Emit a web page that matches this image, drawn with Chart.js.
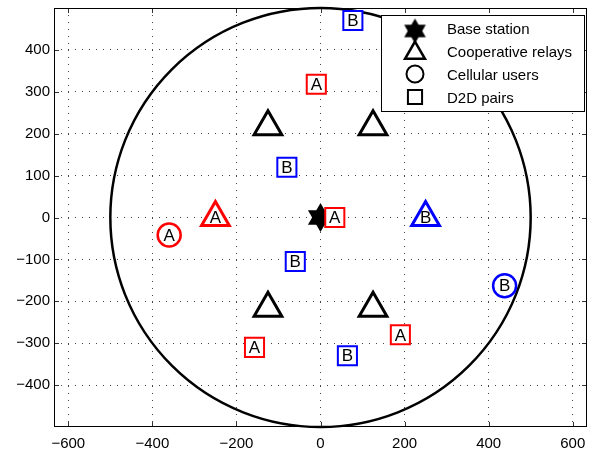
<!DOCTYPE html>
<html>
<head>
<meta charset="utf-8">
<script src="https://cdn.jsdelivr.net/npm/chart.js@4.4.0/dist/chart.umd.min.js"></script>
<style>
  html, body { margin: 0; padding: 0; background: #fff; }
  #wrap { width: 594px; height: 453px; }
</style>
</head>
<body>
<div id="wrap"><canvas id="cellChart"></canvas></div>
<script>
'use strict';

// cell layout (metres)
var cellRadius = 500;
var baseStation = [{x: 0, y: 0}];
var relaysIdle = [{x: -125, y: 216.5}, {x: 125, y: 216.5}, {x: -125, y: -216.5}, {x: 125, y: -216.5}];
var relayA = [{x: -250, y: 0}];
var relayB = [{x: 250, y: 0}];
var cellUserA = [{x: -360, y: -42}];
var cellUserB = [{x: 438, y: -163}];
var d2dA = [{x: -10, y: 318}, {x: 34, y: 0}, {x: -157, y: -310}, {x: 190, y: -280}];
var d2dB = [{x: 77, y: 470}, {x: -80, y: 120}, {x: -60, y: -105}, {x: 64, y: -330}];

// axes
var xRange = [-634, 634];
var yRange = [-500, 500];
var xTicks = [-600, -400, -200, 0, 200, 400, 600];
var yTicks = [-400, -300, -200, -100, 0, 100, 200, 300, 400];
var legendNames = ['Base station', 'Cooperative relays', 'Cellular users', 'D2D pairs'];

var RED = '#ff0000';
var BLUE = '#0000ff';
var FONT = "'Liberation Sans', Arial, sans-serif";

// filled six point star, Chart.js has no such point style
function makeHexagram(R) {
    var size = Math.ceil(R * 2) + 2;
    var c = document.createElement('canvas');
    c.width = size;
    c.height = size;
    var g = c.getContext('2d');
    g.fillStyle = '#000';
    for (var k = 0; k < 2; k++) {
        g.beginPath();
        for (var i = 0; i < 3; i++) {
            var a = (k * 60 + i * 120 - 90) * Math.PI / 180;
            var px = size / 2 + R * Math.cos(a);
            var py = size / 2 + R * Math.sin(a);
            if (i === 0) g.moveTo(px, py); else g.lineTo(px, py);
        }
        g.closePath();
        g.fill();
    }
    return c;
}
var starBig = makeHexagram(14.5);
var starSmall = makeHexagram(12.5);

function markerSet(data, style, radius, color, width, fill, tag, order) {
    return {
        data: data,
        showLine: false,
        pointStyle: style,
        pointRadius: radius,
        pointHoverRadius: radius,
        pointBorderColor: color,
        pointBackgroundColor: fill,
        pointBorderWidth: width,
        pointHoverBorderWidth: width,
        tag: tag,
        order: order
    };
}

function minus(v) {
    return String(v).replace('-', '\u2212');
}

// circle, frame, inward ticks, A/B tags and the legend box
var cellPlugin = {
    id: 'cellPlugin',
    beforeDatasetsDraw: function(chart) {
        var ctx = chart.ctx;
        var xs = chart.scales.x, ys = chart.scales.y;
        var cx = xs.getPixelForValue(0), cy = ys.getPixelForValue(0);
        var rx = xs.getPixelForValue(cellRadius) - cx;
        var ry = cy - ys.getPixelForValue(cellRadius);
        ctx.save();
        ctx.strokeStyle = '#000';
        ctx.lineWidth = 2.5;
        ctx.beginPath();
        ctx.ellipse(cx, cy, rx, ry, 0, 0, Math.PI * 2);
        ctx.stroke();
        ctx.restore();
    },
    afterDatasetsDraw: function(chart) {
        var ctx = chart.ctx;
        var area = chart.chartArea;
        var xs = chart.scales.x, ys = chart.scales.y;

        ctx.save();
        ctx.font = '17px ' + FONT;
        ctx.fillStyle = '#000';
        ctx.textAlign = 'center';
        ctx.textBaseline = 'middle';
        chart.data.datasets.forEach(function(ds, i) {
            if (!ds.tag) return;
            chart.getDatasetMeta(i).data.forEach(function(pt) {
                ctx.fillText(ds.tag, pt.x, pt.y + 1);
            });
        });

        // inward tick marks on all four sides
        ctx.strokeStyle = '#333';
        ctx.lineWidth = 1;
        ctx.beginPath();
        xTicks.forEach(function(v) {
            var px = Math.round(xs.getPixelForValue(v)) + 0.5;
            ctx.moveTo(px, area.bottom); ctx.lineTo(px, area.bottom - 5);
            ctx.moveTo(px, area.top); ctx.lineTo(px, area.top + 5);
        });
        yTicks.forEach(function(v) {
            var py = Math.round(ys.getPixelForValue(v)) + 0.5;
            ctx.moveTo(area.left, py); ctx.lineTo(area.left + 5, py);
            ctx.moveTo(area.right, py); ctx.lineTo(area.right - 5, py);
        });
        ctx.stroke();

        ctx.strokeStyle = '#000';
        ctx.strokeRect(area.left + 0.5, area.top + 0.5, area.right - area.left - 1, area.bottom - area.top - 1);

        // legend
        var lx = 381.5, ly = 15.5, lw = 203, lh = 96;
        ctx.fillStyle = '#fff';
        ctx.fillRect(lx, ly, lw, lh);
        ctx.strokeRect(lx, ly, lw, lh);

        var mx = 415;
        var draw = Chart.helpers.drawPoint;
        draw(ctx, {pointStyle: starSmall, radius: 12, rotation: 0, borderWidth: 0}, mx, 31);
        ctx.fillStyle = '#fff';
        ctx.strokeStyle = '#000';
        ctx.lineWidth = 2.5;
        draw(ctx, {pointStyle: 'triangle', radius: 11.5, rotation: 0, borderWidth: 2.5}, mx, 53);
        ctx.lineWidth = 2;
        draw(ctx, {pointStyle: 'circle', radius: 8.5, rotation: 0, borderWidth: 2}, mx, 74);
        draw(ctx, {pointStyle: 'rect', radius: 10, rotation: 0, borderWidth: 2}, mx, 97);

        ctx.fillStyle = '#000';
        ctx.font = '15px ' + FONT;
        ctx.textAlign = 'left';
        ctx.textBaseline = 'alphabetic';
        var baselines = [33.5, 56.5, 80, 103];
        legendNames.forEach(function(name, i) {
            ctx.fillText(name, 447, baselines[i]);
        });
        ctx.restore();
    }
};

var ctx = document.getElementById('cellChart').getContext('2d');
var chart = new Chart(ctx, {
    type: 'scatter',
    data: {
        datasets: [
            markerSet(baseStation, starBig, 15, '#000', 0, '#000', null, 6),
            markerSet(relaysIdle, 'triangle', 16, '#000', 3, '#fff', null, 4),
            markerSet(relayA, 'triangle', 16, RED, 3, '#fff', 'A', 3),
            markerSet(relayB, 'triangle', 16, BLUE, 3, '#fff', 'B', 3),
            markerSet(cellUserA, 'circle', 11.5, RED, 2.5, '#fff', 'A', 2),
            markerSet(cellUserB, 'circle', 11.5, BLUE, 2.5, '#fff', 'B', 2),
            markerSet(d2dA, 'rect', 13.5, RED, 2, '#fff', 'A', 1),
            markerSet(d2dB, 'rect', 13.5, BLUE, 2, '#fff', 'B', 1)
        ]
    },
    options: {
        responsive: true,
        maintainAspectRatio: false,
        animation: false,
        layout: { autoPadding: false, padding: { top: 8, right: 7, left: 0, bottom: 0 } },
        plugins: {
            legend: { display: false },
            tooltip: { enabled: false }
        },
        scales: {
            x: {
                type: 'linear',
                min: xRange[0],
                max: xRange[1],
                afterBuildTicks: function(scale) {
                    scale.ticks = xTicks.map(function(v) { return {value: v}; });
                },
                afterFit: function(scale) {
                    scale.height = 26;
                    scale.paddingLeft = 0;
                    scale.paddingRight = 0;
                },
                grid: { color: '#444', lineWidth: 1, drawTicks: false },
                border: { display: false, dash: [1, 6] },
                ticks: {
                    padding: 8,
                    color: '#000',
                    font: { family: FONT, size: 15 },
                    callback: function(v) { return minus(v); }
                }
            },
            y: {
                type: 'linear',
                min: yRange[0],
                max: yRange[1],
                afterBuildTicks: function(scale) {
                    scale.ticks = yTicks.map(function(v) { return {value: v}; });
                },
                afterFit: function(scale) {
                    scale.width = 54;
                    scale.paddingTop = 0;
                    scale.paddingBottom = 0;
                },
                grid: { color: '#444', lineWidth: 1, drawTicks: false },
                border: { display: false, dash: [1, 6] },
                ticks: {
                    padding: 4,
                    color: '#000',
                    font: { family: FONT, size: 15 },
                    callback: function(v) { return minus(v); }
                }
            }
        }
    },
    plugins: [cellPlugin]
});
</script>
</body>
</html>
